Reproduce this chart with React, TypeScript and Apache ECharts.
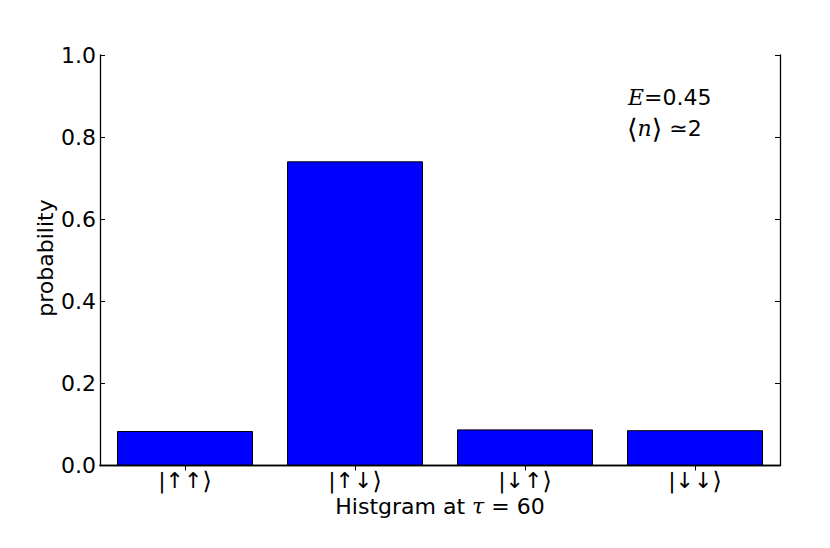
import React, { useEffect, useRef } from "react";
import * as echarts from "echarts";

const categories = ["|↑↑⟩", "|↑↓⟩", "|↓↑⟩", "|↓↓⟩"];
const probabilities = [0.084, 0.741, 0.088, 0.086];
const yTicks = [0, 0.2, 0.4, 0.6, 0.8, 1.0];

const FONT = "DejaVu Sans";
const FS = 22;

export default function App() {
  const ref = useRef<HTMLDivElement>(null);
  useEffect(() => {
    if (!ref.current) return;
    const chart = echarts.init(ref.current, null, { renderer: "svg" });
    const axisLine = { show: true, lineStyle: { color: "#000", width: 1.3 } };
    const tick = { show: true, inside: true, length: 5, lineStyle: { color: "#000", width: 1 } };
    chart.setOption({
      animation: false,
      backgroundColor: "#fff",
      grid: { left: 100, right: 50, top: 55, bottom: 82.5, containLabel: false },
      xAxis: [
        {
          type: "category",
          data: categories,
          position: "bottom",
          boundaryGap: true,
          axisLine,
          axisTick: { ...tick, alignWithLabel: true },
          axisLabel: {
            interval: 0,
            hideOverlap: false,
            color: "#000",
            fontFamily: FONT,
            fontSize: FS,
            lineHeight: 18,
            margin: 6,
            formatter: (v: string) => v.replace("⟩", "{b|⟩}"),
            rich: {
              b: { fontFamily: "DejaVu Serif", fontSize: 24, lineHeight: 18, color: "#000" },
            },
          },
          splitLine: { show: false },
        },
        {
          type: "category",
          data: categories,
          position: "top",
          boundaryGap: true,
          axisLine,
          axisTick: { ...tick, alignWithLabel: true },
          axisLabel: { show: false },
          splitLine: { show: false },
        },
      ],
      yAxis: [
        {
          type: "value",
          min: yTicks[0],
          max: yTicks[yTicks.length - 1],
          interval: 0.2,
          position: "left",
          axisLine,
          axisTick: tick,
          axisLabel: {
            color: "#000",
            fontFamily: FONT,
            fontSize: FS,
            margin: 4,
            formatter: (v: number) => v.toFixed(1),
          },
          splitLine: { show: false },
        },
        {
          type: "value",
          min: yTicks[0],
          max: yTicks[yTicks.length - 1],
          interval: 0.2,
          position: "right",
          axisLine,
          axisTick: tick,
          axisLabel: { show: false },
          splitLine: { show: false },
        },
      ],
      series: [
        {
          type: "bar",
          data: probabilities,
          xAxisIndex: 0,
          yAxisIndex: 0,
          barWidth: "80%",
          itemStyle: { color: "#0000ff", borderColor: "#000", borderWidth: 1 },
          z: 1,
        },
      ],
      graphic: [
        {
          type: "text",
          x: 45.5,
          y: 258,
          rotation: Math.PI / 2,
          style: {
            text: "probability",
            fontFamily: FONT,
            fontSize: FS,
            fill: "#000",
            align: "center",
            verticalAlign: "middle",
          },
        },
        {
          type: "text",
          x: 440,
          y: 506,
          style: {
            text: "Histgram at {t|τ} = 60",
            fontFamily: FONT,
            fontSize: FS,
            lineHeight: 14,
            fill: "#000",
            align: "center",
            verticalAlign: "middle",
            rich: {
              t: { fontFamily: "DejaVu Serif", fontStyle: "italic", fontSize: FS, lineHeight: 14, fill: "#000" },
            },
          },
        },
        {
          type: "text",
          x: 628,
          y: 97,
          style: {
            text: "{e|E}=0.45",
            fontFamily: FONT,
            fontSize: FS,
            fill: "#000",
            align: "left",
            verticalAlign: "middle",
            rich: {
              e: { fontFamily: "DejaVu Serif", fontStyle: "italic", fontSize: FS, fill: "#000" },
            },
          },
        },
        {
          type: "text",
          x: 627,
          y: 128,
          style: {
            text: "{s|⟨}{n|n}{s|⟩} ≃2",
            fontFamily: FONT,
            fontSize: FS,
            fill: "#000",
            align: "left",
            verticalAlign: "middle",
            rich: {
              s: { fontFamily: "DejaVu Serif", fontSize: 27, fill: "#000" },
              n: { fontFamily: "DejaVu Serif", fontStyle: "italic", fontSize: FS, fill: "#000" },
            },
          },
        },
      ],
    });
    return () => chart.dispose();
  }, []);
  return (
    <div
      ref={ref}
      style={{ position: "absolute", left: 0, top: 0, width: 830, height: 548, background: "#fff" }}
    />
  );
}
